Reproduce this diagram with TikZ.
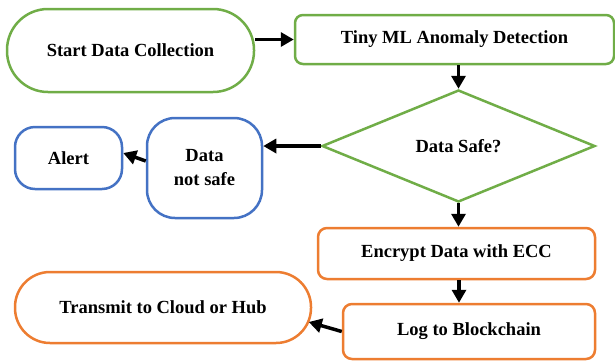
\documentclass[tikz,border=0pt]{standalone}
\usepackage{fontspec}
\setmainfont{Liberation Serif}
\usetikzlibrary{shapes.geometric,arrows.meta,calc}
\definecolor{cgreen}{HTML}{70AD47}
\definecolor{cblue}{HTML}{4472C4}
\definecolor{corange}{HTML}{ED7D31}
\begin{document}
\begin{tikzpicture}[x=1pt,y=-1pt,
  box/.style={draw, line width=2.5pt, inner sep=0pt, fill=white,
    font=\bfseries\fontsize{18.5}{24}\selectfont, align=center},
  arr/.style={line width=3.5pt, -{Triangle[length=13pt,width=14pt]}},
]
\useasboundingbox (0,0) rectangle (615,360);

\node[box, draw=cgreen, minimum width=247pt, minimum height=83pt, rounded corners=41pt] (start) at (130.5,50.5) {Start Data Collection};
\node[box, draw=cgreen, minimum width=319pt, minimum height=49pt, rounded corners=8pt] (tiny) at (454.5,39.5) {Tiny ML Anomaly Detection};
\node[box, draw=cgreen, diamond, aspect=2.44, minimum width=273pt, minimum height=112pt] (safe) at (458.5,146) {Data Safe?};
\node[box, draw=cblue, minimum width=115pt, minimum height=100pt, rounded corners=28pt] (notsafe) at (204.5,168) {Data\\not safe};
\node[box, draw=cblue, minimum width=107pt, minimum height=62pt, rounded corners=20pt] (alert) at (68.5,158) {Alert};
\node[box, draw=corange, minimum width=277pt, minimum height=51pt, rounded corners=9pt] (encrypt) at (456.5,253.5) {Encrypt Data with ECC};
\node[box, draw=corange, minimum width=252pt, minimum height=55pt, rounded corners=9pt] (log) at (469,331.5) {Log to Blockchain};
\node[box, draw=corange, minimum width=296pt, minimum height=71pt, rounded corners=35pt] (transmit) at (163,307.5) {Transmit to Cloud or Hub};

\coordinate (ea) at ($(encrypt.south)+(2.5,0)$);
\coordinate (na) at ($(notsafe.west)+(0,-7)$);
\coordinate (aa) at ($(alert.east)+(0,-5)$);
\coordinate (ta) at ($(transmit.east)+(-3.5,14.5)$);

\draw[arr] (start.east |- tiny.west) -- (tiny.west);
\draw[arr] (safe.north |- tiny.south) -- (safe.north);
\draw[arr] (safe.west) -- (safe.west -| notsafe.east);
\draw[arr] (na) -- (aa);
\draw[arr] (safe.south) -- (safe.south |- encrypt.north);
\draw[arr] (ea) -- (ea |- log.north);
\draw[arr] (log.west) -- (ta);
\end{tikzpicture}
\end{document}
